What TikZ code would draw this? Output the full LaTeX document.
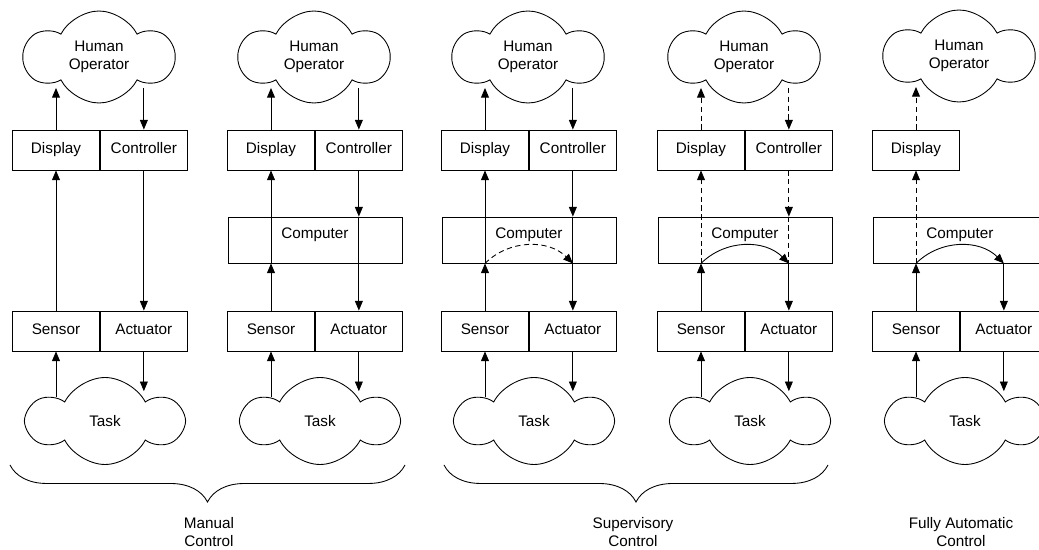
\documentclass[tikz,border=0pt]{standalone}
\usepackage{fontspec}
\setmainfont{Liberation Sans}
\usepackage{tikz}
\usetikzlibrary{arrows.meta, positioning, shapes.symbols, decorations.pathreplacing}
\tikzset{
  blocknode/.style = {align=center, inner sep=0pt, text centered,
    font=\fontsize{8.7}{10.2}\selectfont},
  blk/.style = {blocknode, rectangle, draw=black, text height=6.3pt, text depth=2.6pt,
    minimum width=1.74cm, minimum height=0.8cm},
  cpu/.style = {blk, minimum width=3.48cm, minimum height=0.92cm, text depth=8pt},
  cl/.style = {blocknode, cloud, draw=black, cloud puffs=6, cloud puff arc=125,
    cloud ignores aspect, minimum width=2.96cm, minimum height=1.84cm},
  task/.style = {cl, minimum width=3.06cm, minimum height=1.74cm},
  dsh/.style = {dash pattern=on 3pt off 2pt},
  grp/.style = {decorate, decoration={brace, mirror, amplitude=0.74cm}}
}

\begin{document}
\begin{tikzpicture}[x=0.02cm, y=-0.02cm, line width=0.5pt,
  >={Triangle[length=5.5pt,width=4.5pt]}]
\useasboundingbox (0,0) rectangle (1039,550);
\clip (0,0) rectangle (1039,550);

% manual control
\node [cl] (h1) at (99,57) {Human\\Operator};
\node [blk] (d1) at (56,150) {Display};
\node [blk] (c1) [right=0pt of d1] {Controller};
\node [blk] (s1) at (56,331) {Sensor};
\node [blk] (a1) [right=0pt of s1] {Actuator};
\node [task] (t1) at (105,421) {Task};
\draw [->] (d1.north) -- (h1.223 -| d1.north);
\draw [->] (h1.317 -| c1.north) -- (c1.north);
\draw [->] (s1.north) -- (d1.south);
\draw [->] (c1.south) -- (a1.north);
\draw [->] (t1.148 -| s1.south) -- (s1.south);
\draw [->] (a1.south) -- (t1.42 -| a1.south);

% manual control with computer
\node [cl] (h2) at (314,57) {Human\\Operator};
\node [blk] (d2) at (271,150) {Display};
\node [blk] (c2) [right=0pt of d2] {Controller};
\node [cpu] (m2) at (315,240) {Computer};
\node [blk] (s2) at (271,331) {Sensor};
\node [blk] (a2) [right=0pt of s2] {Actuator};
\node [task] (t2) at (320,421) {Task};
\draw [->] (d2.north) -- (h2.223 -| d2.north);
\draw [->] (h2.317 -| c2.north) -- (c2.north);
\draw [->] (s2.north) -- (m2.south -| s2.north);
\draw [->] (m2.south -| d2.south) -- (d2.south);
\draw [->] (c2.south) -- (m2.north -| c2.south);
\draw [->] (m2.north -| a2.north) -- (a2.north);
\draw [->] (t2.148 -| s2.south) -- (s2.south);
\draw [->] (a2.south) -- (t2.42 -| a2.south);

% supervisory control, dashed loop
\node [cl] (h3) at (528,57) {Human\\Operator};
\node [blk] (d3) at (485,150) {Display};
\node [blk] (c3) [right=0pt of d3] {Controller};
\node [cpu] (m3) at (529,240) {Computer};
\node [blk] (s3) at (485,331) {Sensor};
\node [blk] (a3) [right=0pt of s3] {Actuator};
\node [task] (t3) at (534,421) {Task};
\draw [->] (d3.north) -- (h3.223 -| d3.north);
\draw [->] (h3.317 -| c3.north) -- (c3.north);
\draw [->] (s3.north) -- (m3.south -| s3.north);
\draw [->] (m3.south -| d3.south) -- (d3.south);
\draw [->] (c3.south) -- (m3.north -| c3.south);
\draw [->] (m3.north -| a3.north) -- (a3.north);
\draw [->, dsh] (m3.south -| s3.north) to [bend left=45] (m3.south -| a3.north);
\draw [->] (t3.148 -| s3.south) -- (s3.south);
\draw [->] (a3.south) -- (t3.42 -| a3.south);

% supervisory control, solid loop
\node [cl] (h4) at (744,57) {Human\\Operator};
\node [blk] (d4) at (701,150) {Display};
\node [blk] (c4) [right=0pt of d4] {Controller};
\node [cpu] (m4) at (745,240) {Computer};
\node [blk] (s4) at (701,331) {Sensor};
\node [blk] (a4) [right=0pt of s4] {Actuator};
\node [task] (t4) at (750,421) {Task};
\draw [->, dsh] (d4.north) -- (h4.223 -| d4.north);
\draw [->, dsh] (h4.317 -| c4.north) -- (c4.north);
\draw [->] (s4.north) -- (m4.south -| s4.north);
\draw [->, dsh] (m4.south -| d4.south) -- (d4.south);
\draw [->, dsh] (c4.south) -- (m4.north -| c4.south);
\draw [dsh] (m4.north -| a4.north) -- (m4.south -| a4.north);
\draw [->] (m4.south -| a4.north) -- (a4.north);
\draw [->] (m4.south -| s4.north) to [bend left=45] (m4.south -| a4.north);
\draw [->] (t4.148 -| s4.south) -- (s4.south);
\draw [->] (a4.south) -- (t4.42 -| a4.south);

% fully automatic
\node [cl] (h5) at (959,56) {Human\\Operator};
\node [blk] (d5) at (916,150) {Display};
\node [cpu] (m5) at (960,240) {Computer};
\node [blk] (s5) at (916,331) {Sensor};
\node [blk] (a5) [right=0pt of s5] {Actuator};
\node [task] (t5) at (965,421) {Task};
\draw [->, dsh] (d5.north) -- (h5.223 -| d5.north);
\draw [->] (s5.north) -- (m5.south -| s5.north);
\draw [->, dsh] (m5.south -| d5.south) -- (d5.south);
\draw [->] (m5.south -| s5.north) to [bend left=45] (m5.south -| a5.north);
\draw [->] (m5.south -| a5.north) -- (a5.north);
\draw [->] (t5.148 -| s5.south) -- (s5.south);
\draw [->] (a5.south) -- (t5.42 -| a5.south);

% groups
\draw [grp] (10,465) -- (405,465);
\draw [grp] (444,465) -- (828,465);
\node [blocknode] (manual) at (209,532) {Manual\\Control};
\node [blocknode] (superv) at (633,532) {Supervisory\\Control};
\node [blocknode] (auto) at (961,532) {Fully Automatic\\Control};
\end{tikzpicture}
\end{document}
